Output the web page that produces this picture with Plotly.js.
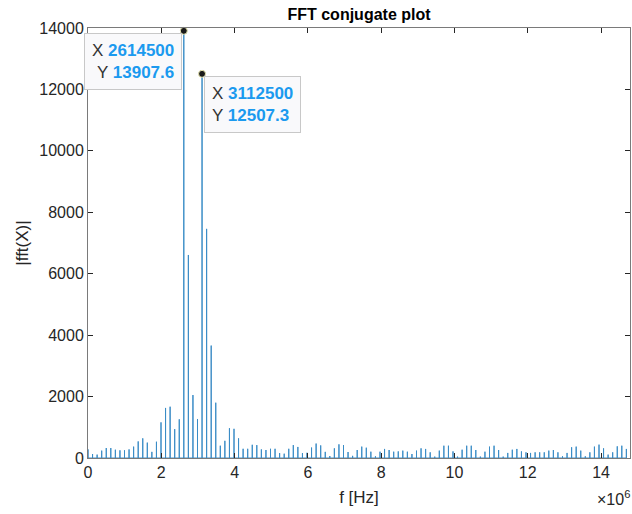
<!DOCTYPE html>
<html>
<head>
<meta charset="utf-8">
<script src="https://cdn.plot.ly/plotly-3.0.1.min.js"></script>
<style>
  html, body { margin: 0; padding: 0; background: #ffffff; }
  #chart { width: 632px; height: 514px; }
</style>
</head>
<body>
<div id="chart"></div>
<script>
// Harmonic frequencies (Hz) of the spikes
const freqHz = [
  0, 124500, 249000, 373500, 498000, 622500, 747000, 871500, 996000, 1120500,
  1245000, 1369500, 1494000, 1618500, 1743000, 1867500, 1992000, 2116500, 2241000, 2365500,
  2490000, 2614500, 2739000, 2863500, 2988000, 3112500, 3237000, 3361500, 3486000, 3610500,
  3735000, 3859500, 3984000, 4108500, 4233000, 4357500, 4482000, 4606500, 4731000, 4855500,
  4980000, 5104500, 5229000, 5353500, 5478000, 5602500, 5727000, 5851500, 5976000, 6100500,
  6225000, 6349500, 6474000, 6598500, 6723000, 6847500, 6972000, 7096500, 7221000, 7345500,
  7470000, 7594500, 7719000, 7843500, 7968000, 8092500, 8217000, 8341500, 8466000, 8590500,
  8715000, 8839500, 8964000, 9088500, 9213000, 9337500, 9462000, 9586500, 9711000, 9835500,
  9960000, 10084500, 10209000, 10333500, 10458000, 10582500, 10707000, 10831500, 10956000, 11080500,
  11205000, 11329500, 11454000, 11578500, 11703000, 11827500, 11952000, 12076500, 12201000, 12325500,
  12450000, 12574500, 12699000, 12823500, 12948000, 13072500, 13197000, 13321500, 13446000, 13570500,
  13695000, 13819500, 13944000, 14068500, 14193000, 14317500, 14442000, 14566500, 14691000
];
// |fft(X)| at each spike
const fftMag = [
  280, 130, 110, 240, 325, 325, 270, 250, 250, 280,
  370, 540, 640, 500, 200, 530, 1160, 1630, 1670, 940,
  1260, 13907.6, 6610, 2050, 1270, 12507.3, 7460, 3660, 1800, 400,
  560, 970, 950, 640, 300, 300, 430, 420, 280, 260,
  300, 300, 160, 140, 300, 420, 360, 160, 170, 340,
  470, 410, 200, 65, 315, 445, 420, 195, 70, 260,
  370, 335, 205, 55, 205, 295, 260, 205, 215, 240,
  205, 130, 240, 315, 295, 185, 45, 240, 400, 400,
  215, 45, 270, 400, 400, 260, 45, 205, 370, 400,
  260, 45, 165, 270, 295, 215, 185, 165, 185, 185,
  185, 240, 260, 185, 55, 165, 350, 370, 240, 55,
  185, 370, 435, 315, 110, 185, 380, 400, 295
];
// Data tips
const tipX = [2614500, 3112500];
const tipY = [13907.6, 12507.3];
// Axis ticks
const xTickVals = [0, 2e6, 4e6, 6e6, 8e6, 10e6, 12e6, 14e6];
const xTickText = ["0", "2", "4", "6", "8", "10", "12", "14"];
const yTickVals = [0, 2000, 4000, 6000, 8000, 10000, 12000, 14000];
const yTickText = ["0", "2000", "4000", "6000", "8000", "10000", "12000", "14000"];

// build the spectrum line: baseline at zero with a spike at each harmonic
const lineX = [], lineY = [];
for (let i = 0; i < freqHz.length; i++) {
  lineX.push(freqHz[i], freqHz[i], freqHz[i]);
  lineY.push(0, fftMag[i], 0);
}

const FONT = "Liberation Sans, Arial, Helvetica, sans-serif";
const AXC = "#262626";

const traces = [
  {
    type: "scatter", mode: "lines", x: lineX, y: lineY,
    line: { color: "#3a8cc6", width: 1 }, hoverinfo: "skip", showlegend: false
  },
  {
    type: "scatter", mode: "markers", x: tipX, y: tipY,
    marker: { size: 7, color: "#1a1a1a", line: { color: "#e8e6b0", width: 1 } },
    hoverinfo: "skip", showlegend: false, cliponaxis: false
  }
];

function tipText(x, y) {
  const c = "#1B9AEF";
  return "X <b><span style='color:" + c + "'>" + x + "</span></b><br>" +
         "Y <b><span style='color:" + c + "'>" + y + "</span></b>";
}

const layout = {
  width: 632, height: 514,
  margin: { l: 88, r: 2, t: 28, b: 56, pad: 0 },
  paper_bgcolor: "#ffffff", plot_bgcolor: "#ffffff",
  font: { family: FONT, color: AXC },
  title: {
    text: "<b>FFT conjugate plot</b>",
    font: { family: FONT, size: 16, color: "#000000" },
    x: 0.5, xref: "paper", xanchor: "center",
    y: 1 - 14 / 514, yref: "container", yanchor: "middle"
  },
  xaxis: {
    range: [0, 14.79e6], tickvals: xTickVals, ticktext: xTickText,
    ticks: "inside", ticklen: 5, tickcolor: AXC, tickwidth: 1,
    showline: true, linecolor: "#7a7a7a", linewidth: 1, mirror: "ticks",
    showgrid: false, zeroline: false,
    tickfont: { family: FONT, size: 16, color: AXC },
    title: { text: "f [Hz]", font: { family: FONT, size: 17, color: AXC }, standoff: 10 }
  },
  yaxis: {
    range: [0, 14000], tickvals: yTickVals, ticktext: yTickText,
    ticks: "inside", ticklen: 5, tickcolor: AXC, tickwidth: 1,
    showline: true, linecolor: "#7a7a7a", linewidth: 1, mirror: "ticks",
    showgrid: false, zeroline: false, automargin: true,
    tickfont: { family: FONT, size: 16, color: AXC },
    title: { text: "|fft(X)|", font: { family: FONT, size: 17, color: AXC }, standoff: 6 }
  },
  annotations: [
    {
      xref: "x", yref: "y", x: tipX[0], y: tipY[0],
      text: tipText(tipX[0], tipY[0]), showarrow: false,
      xanchor: "right", yanchor: "top", xshift: -2, yshift: -2, align: "right",
      font: { family: FONT, size: 17, color: "#333333" },
      bgcolor: "#F9F9FB", bordercolor: "#C8C8C8", borderwidth: 1, borderpad: 7
    },
    {
      xref: "x", yref: "y", x: tipX[1], y: tipY[1],
      text: tipText(tipX[1], tipY[1]), showarrow: false,
      xanchor: "left", yanchor: "top", xshift: 2, yshift: -2, align: "left",
      font: { family: FONT, size: 17, color: "#333333" },
      bgcolor: "#F9F9FB", bordercolor: "#C8C8C8", borderwidth: 1, borderpad: 7
    },
    {
      xref: "paper", yref: "paper", x: 1, y: 0, xanchor: "right", yanchor: "middle",
      xshift: 2, yshift: -40, showarrow: false,
      text: "×10<sup>6</sup>", font: { family: FONT, size: 16, color: AXC }
    }
  ]
};

Plotly.newPlot("chart", traces, layout, { staticPlot: true, displayModeBar: false });
</script>
</body>
</html>
